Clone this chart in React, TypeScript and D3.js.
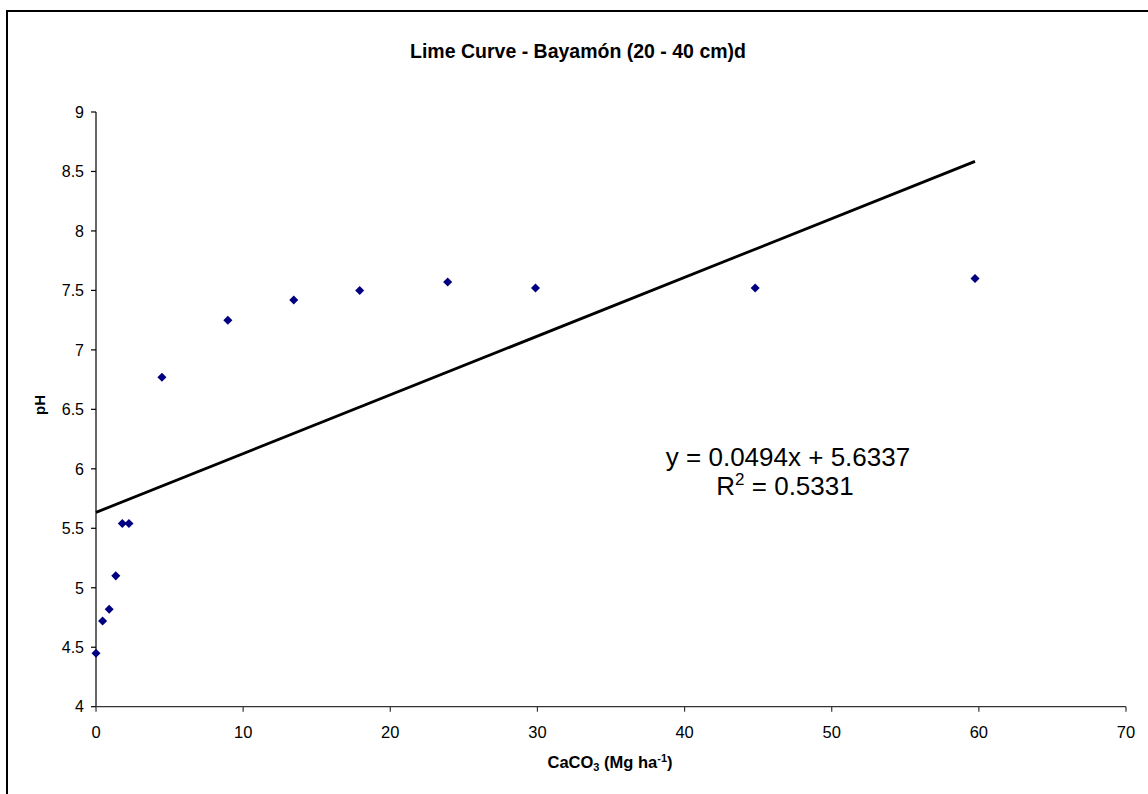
import React from "react";
import * as d3 from "d3";

const xValues = [0, 0.448, 0.896, 1.344, 1.79, 2.24, 4.48, 8.96, 13.44, 17.92, 23.9, 29.87, 44.8, 59.74];
const pHValues = [4.45, 4.72, 4.82, 5.1, 5.54, 5.54, 6.77, 7.25, 7.42, 7.5, 7.57, 7.52, 7.52, 7.6];
const xTicks = [0, 10, 20, 30, 40, 50, 60, 70];
const yTicks = [4, 4.5, 5, 5.5, 6, 6.5, 7, 7.5, 8, 8.5, 9];
const slope = 0.0494;
const intercept = 5.6337;

const W = 1148;
const H = 794;
const font = "Arial, 'Liberation Sans', Helvetica, sans-serif";

export default function App() {
  const x = d3.scaleLinear().domain([0, 70]).range([96, 1126]);
  const y = d3.scaleLinear().domain([4, 9]).range([706.7, 112]);
  const data = xValues.map((v, i) => ({ x: v, y: pHValues[i] }));
  const xMax = d3.max(xValues) as number;
  const trend = d3.line<number>()
    .x((d) => x(d))
    .y((d) => y(slope * d + intercept));
  const diamond = d3.symbol().type(d3.symbolDiamond2 ?? d3.symbolDiamond).size(52)();

  return (
    <svg width={W} height={H} style={{ position: "absolute", left: 0, top: 0, background: "#fff" }} fontFamily={font}>
      <rect x={7} y={11} width={1160} height={800} fill="#fff" stroke="#000" strokeWidth={2} />
      <text x={578} y={58} textAnchor="middle" fontSize={19.5} fontWeight="bold">Lime Curve - Bayamón (20 - 40 cm)d</text>

      {/* y axis */}
      <line x1={x(0)} x2={x(0)} y1={y(9)} y2={y(4)} stroke="#000" strokeWidth={1.2} />
      {yTicks.map((t) => (
        <g key={t}>
          <line x1={x(0) - 5} x2={x(0)} y1={y(t)} y2={y(t)} stroke="#000" strokeWidth={1.2} />
          <text x={84} y={y(t)} dy="0.36em" textAnchor="end" fontSize={16}>{t}</text>
        </g>
      ))}
      {/* x axis */}
      <line x1={x(0)} x2={x(70)} y1={y(4)} y2={y(4)} stroke="#333" strokeWidth={1.2} />
      {xTicks.map((t) => (
        <g key={t}>
          <line x1={x(t)} x2={x(t)} y1={y(4)} y2={y(4) + 5} stroke="#333" strokeWidth={1.2} />
          <text x={x(t)} y={738} textAnchor="middle" fontSize={16.5}>{t}</text>
        </g>
      ))}

      <text x={610} y={768} textAnchor="middle" fontSize={16.5} fontWeight="bold">
        CaCO<tspan fontSize={11} dy={3}>3</tspan><tspan dy={-3}> (Mg ha</tspan><tspan fontSize={11} dy={-6}>-1</tspan><tspan dy={6}>)</tspan>
      </text>
      <text transform={`translate(45, 405) rotate(-90)`} textAnchor="middle" fontSize={15} fontWeight="bold">pH</text>

      <path d={trend([0, xMax]) ?? ""} fill="none" stroke="#000" strokeWidth={2.8} />

      {data.map((d, i) => (
        <path key={i} d={diamond ?? ""} transform={`translate(${x(d.x)}, ${y(d.y)})`} fill="#000080" />
      ))}

      <text x={788} y={466} textAnchor="middle" fontSize={26}>y = 0.0494x + 5.6337</text>
      <text x={785} y={495} textAnchor="middle" fontSize={26}>
        R<tspan fontSize={17} dy={-10}>2</tspan><tspan dy={10}> = 0.5331</tspan>
      </text>
    </svg>
  );
}
